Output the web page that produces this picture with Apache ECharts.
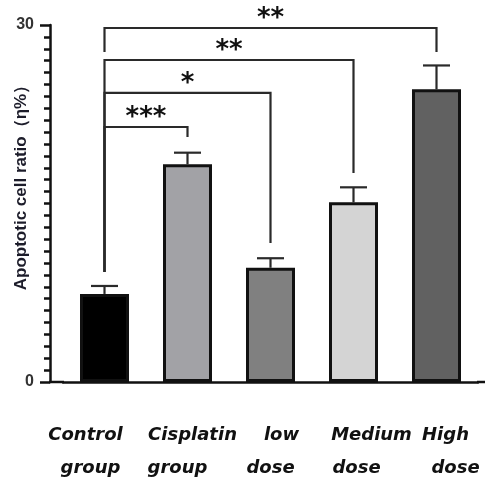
<!DOCTYPE html>
<html>
<head>
<meta charset="utf-8">
<script src="https://cdn.jsdelivr.net/npm/echarts@6/dist/echarts.min.js"></script>
<style>html,body{margin:0;padding:0;background:#fff}#c{width:485px;height:483px}</style>
</head>
<body>
<div id="c"></div>
<script>
// ---- data ----
var categories = ['Control\ngroup', 'Cisplatin\ngroup', 'low\ndose', 'Medium\ndose', 'High\ndose'];
var values = [7.4, 18.3, 9.6, 15.1, 24.6];
var errorUpper = [8.07, 19.27, 10.4, 16.36, 26.6];
var yTicks = [0, 30];
var bracketFrom = [0, 0, 0, 0];
var bracketTo = [1, 2, 3, 4];
var bracketY = [21.43, 24.29, 27.06, 29.75];
var bracketLeftEnd = [9.24, 9.24, 9.24, 27.73];
var bracketRightEnd = [20.59, 11.68, 17.56, 27.73];
var bracketLabels = ['***', '*', '**', '**'];

// ---- styles ----
var barColors = ['#000000', '#a2a2a6', '#808080', '#d4d4d4', '#616161'];
var labelShift = [[-19, -14], [5, -10], [11, 0], [18, 3], [9, 19]];

var chart = echarts.init(document.getElementById('c'), null, {renderer: 'canvas'});

function pad(dx) {
  return dx >= 0 ? [0, 0, 0, 2 * dx] : [0, -2 * dx, 0, 0];
}
var lblFont = {fontSize: 18, fontWeight: 'bold', fontStyle: 'italic', fontFamily: 'DejaVu Sans', color: '#111', lineHeight: 33};
var rich = {};
labelShift.forEach(function (s, i) {
  rich['a' + i] = Object.assign({padding: pad(s[0])}, lblFont);
  rich['b' + i] = Object.assign({padding: pad(s[1])}, lblFont);
});

var bracketData = bracketFrom.map(function (f, i) {
  return [f, bracketTo[i], bracketY[i], bracketLeftEnd[i], bracketRightEnd[i], i];
});
var errData = values.map(function (v, i) { return [i, v, errorUpper[i]]; });

var option = {
  animation: false,
  grid: {left: 63, right: 7, top: 25, bottom: 101, containLabel: false, outerBoundsMode: 'none'},
  xAxis: {
    type: 'category',
    data: categories,
    axisLine: {lineStyle: {color: '#111', width: 2.5}},
    axisTick: {alignWithLabel: true, length: 6, lineStyle: {color: '#111', width: 2.5}},
    axisLabel: {
      margin: 37,
      interval: 0,
      formatter: function (v, i) {
        var p = v.split('\n');
        return '{a' + i + '|' + p[0] + '}\n{b' + i + '|' + p[1] + '}';
      },
      rich: rich
    }
  },
  yAxis: {
    type: 'value',
    min: yTicks[0],
    max: yTicks[1],
    interval: yTicks[1] - yTicks[0],
    offset: 13,
    name: 'Apoptotic cell ratio（η%）',
    nameLocation: 'middle',
    nameGap: 20,
    nameMoveOverlap: false,
    nameTextStyle: {fontSize: 17, fontWeight: 'bold', fontFamily: 'Liberation Sans', color: '#1c1c2a', padding: [0, 0, 0, 40]},
    axisLine: {show: true, lineStyle: {color: '#111', width: 2.5}},
    axisTick: {show: true, length: 10, lineStyle: {color: '#111', width: 2.5}},
    minorTick: {show: true, splitNumber: 30, length: 6, lineStyle: {color: '#111', width: 2.5}},
    axisLabel: {margin: 16, fontSize: 16, fontWeight: 'bold', fontFamily: 'Liberation Sans', color: '#333'},
    splitLine: {show: false}
  },
  graphic: [
    {type: 'line', shape: {x1: 49, y1: 382, x2: 64, y2: 382}, style: {stroke: '#111', lineWidth: 2.5}},
    {type: 'line', shape: {x1: 477, y1: 382, x2: 485, y2: 382}, style: {stroke: '#111', lineWidth: 2.5}}
  ],
  series: [
    {
      type: 'custom',
      z: 1,
      data: errData,
      renderItem: function (params, api) {
        var x = api.value(0);
        var p0 = api.coord([x, api.value(1)]);
        var p1 = api.coord([x, api.value(2)]);
        var s = {stroke: '#2a2a2a', lineWidth: 2.2};
        return {type: 'group', children: [
          {type: 'line', shape: {x1: p0[0], y1: p0[1], x2: p1[0], y2: p1[1]}, style: s},
          {type: 'line', shape: {x1: p1[0] - 13.5, y1: p1[1], x2: p1[0] + 13.5, y2: p1[1]}, style: s}
        ]};
      }
    },
    {
      type: 'bar',
      z: 2,
      barWidth: 49,
      data: values.map(function (v, i) {
        return {value: v, itemStyle: {color: barColors[i], borderColor: '#111', borderWidth: 3}};
      })
    },
    {
      type: 'custom',
      z: 3,
      clip: false,
      data: bracketData,
      renderItem: function (params, api) {
        var a = api.value(0), b = api.value(1), y = api.value(2);
        var pl = api.coord([a, y]);
        var pr = api.coord([b, y]);
        var plb = api.coord([a, api.value(3)]);
        var prb = api.coord([b, api.value(4)]);
        return {type: 'group', children: [
          {type: 'polyline', shape: {points: [[plb[0], plb[1]], [pl[0], pl[1]], [pr[0], pr[1]], [prb[0], prb[1]]]}, style: {stroke: '#2a2a2a', lineWidth: 2.2, fill: null}},
          {type: 'text', style: {text: bracketLabels[api.value(5)], x: (pl[0] + pr[0]) / 2, y: pl[1] - 9, align: 'center', verticalAlign: 'middle', fontSize: 26, fontWeight: 'bold', fontFamily: 'DejaVu Sans', fill: '#111'}}
        ]};
      }
    }
  ]
};
chart.setOption(option);
</script>
</body>
</html>
